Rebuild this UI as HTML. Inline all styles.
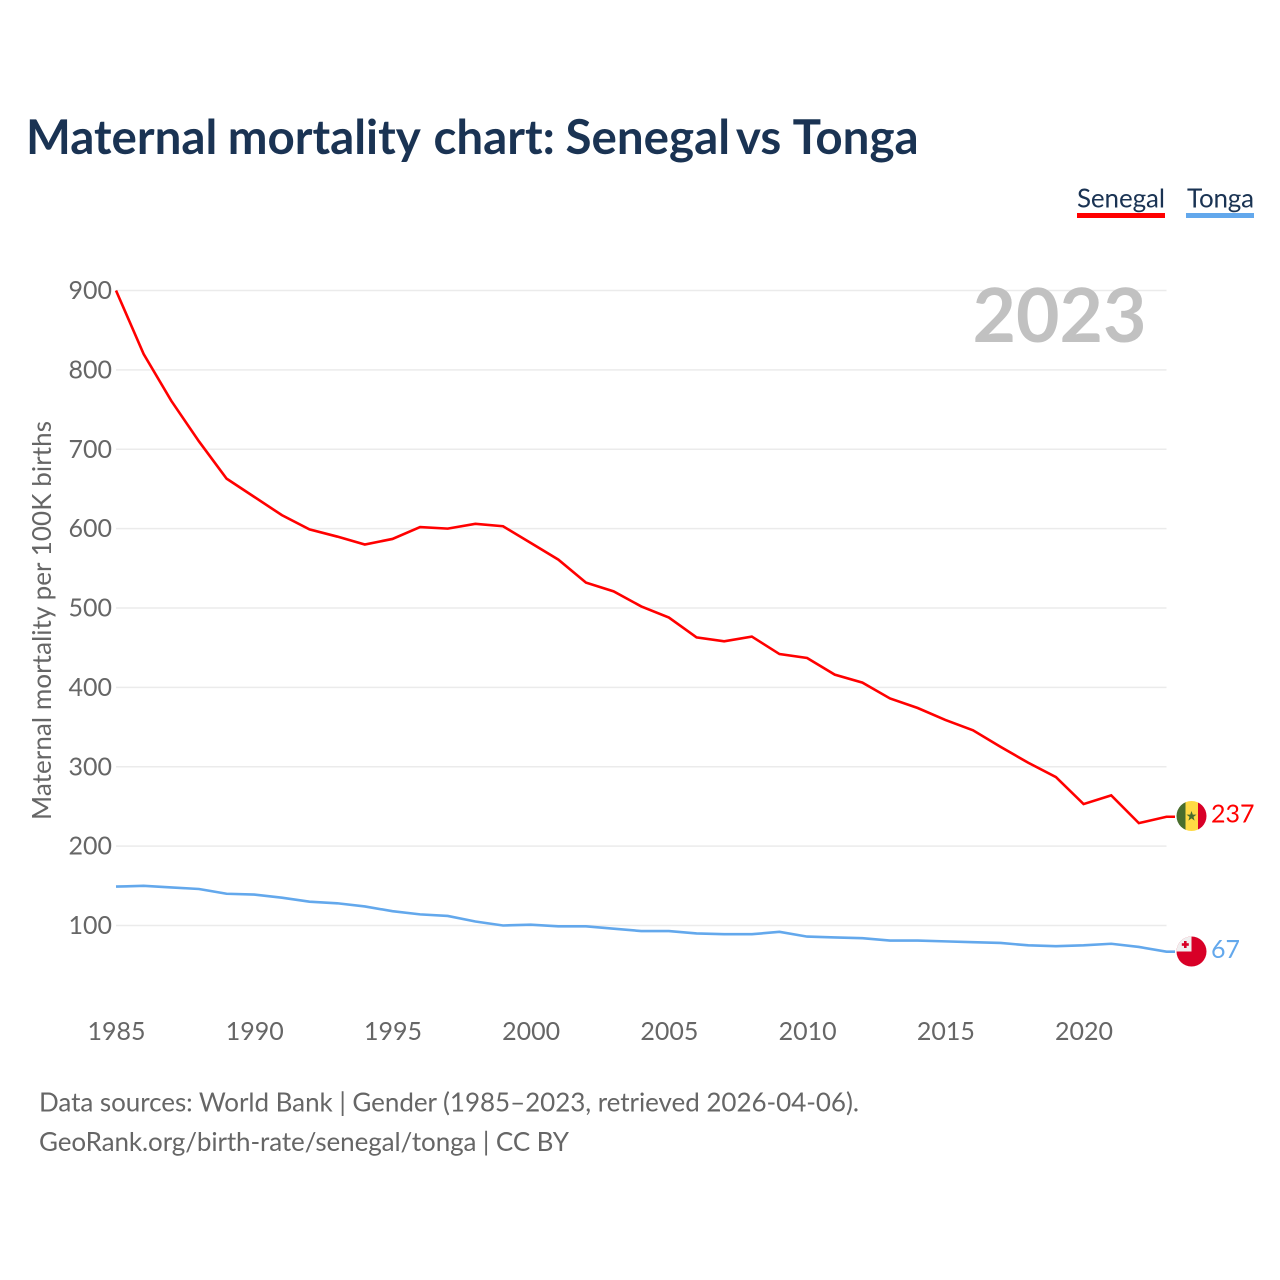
<!DOCTYPE html>
<html lang="en">
<head>
<meta charset="utf-8">
<title>Maternal mortality chart: Senegal vs Tonga</title>
<style>
html,body{margin:0;padding:0;background:#fff}
svg{display:block}
text{font-family:"Lato","Carlito","Liberation Sans",sans-serif}
</style>
</head>
<body>
<svg id="chart" xmlns="http://www.w3.org/2000/svg" width="1280" height="1280" viewBox="0 0 1280 1280">
  <rect width="1280" height="1280" fill="#fff"/>
  <text y="154" font-size="47.5" font-weight="700" fill="#1a3353"><tspan x="26">Maternal</tspan> <tspan x="227.7">mortality</tspan> <tspan x="433.5">chart:</tspan> <tspan x="565.5">Senegal</tspan> <tspan x="735.9">vs</tspan> <tspan x="792.6">Tonga</tspan></text>

  <g>
    <text x="1077" y="207.5" font-size="26" fill="#1a3353" textLength="88">Senegal</text>
    <rect x="1077" y="213" width="88" height="5" fill="#ff0000"/>
  </g>
  <g>
    <text x="1187" y="207.5" font-size="26" fill="#1a3353" textLength="67">Tonga</text>
    <rect x="1186" y="213" width="68" height="5" fill="#63a8ec"/>
  </g>

  <g id="grid"></g>
  <g id="yticks"></g>
  <g id="xticks"></g>
  <text x="1146.5" y="342" text-anchor="end" font-size="75" font-weight="700" fill="#c1c1c1">2023</text>
  <text transform="translate(51,620.5) rotate(-90)" text-anchor="middle" font-size="26" fill="#666" textLength="399">Maternal mortality per 100K births</text>

  <g id="series"></g>

  <defs>
    <clipPath id="clip-sn"><circle cx="1191.5" cy="816" r="15"/></clipPath>
    <clipPath id="clip-to"><circle cx="1191.5" cy="951.5" r="15"/></clipPath>
  </defs>
  <g clip-path="url(#clip-sn)">
    <rect x="1176" y="800" width="10" height="32" fill="#496e2d"/>
    <rect x="1185.5" y="800" width="12.5" height="32" fill="#ffda44"/>
    <rect x="1198" y="800" width="10" height="32" fill="#d80027"/>
    <polygon points="1191.5,811 1192.8,814.6 1196.5,814.6 1193.5,816.9 1194.6,820.6 1191.5,818.4 1188.4,820.6 1189.5,816.9 1186.5,814.6 1190.2,814.6" fill="#496e2d"/>
  </g>
  <g clip-path="url(#clip-to)">
    <rect x="1176" y="936" width="32" height="32" fill="#d80027"/>
    <rect x="1176" y="936" width="15.5" height="15.5" fill="#f0f0f0"/>
    <rect x="1184" y="941" width="2.6" height="7" fill="#d80027"/>
    <rect x="1181.8" y="943.2" width="7" height="2.6" fill="#d80027"/>
  </g>
  <text x="1211" y="822.5" font-size="25" fill="#ff0000">237</text>
  <text x="1211" y="958" font-size="25" fill="#63a8ec">67</text>

  <text x="39" y="1111.5" font-size="26" fill="#666" textLength="820">Data sources: World Bank | Gender (1985–2023, retrieved 2026-04-06).</text>
  <text x="39" y="1151" font-size="26" fill="#666" textLength="530">GeoRank.org/birth-rate/senegal/tonga | CC BY</text>
</svg>
<script>
const years = [1985,1986,1987,1988,1989,1990,1991,1992,1993,1994,1995,1996,1997,1998,1999,2000,2001,2002,2003,2004,2005,2006,2007,2008,2009,2010,2011,2012,2013,2014,2015,2016,2017,2018,2019,2020,2021,2022,2023];
const senegal = [900,820,761,710,663,640,617,599,590,580,587,602,600,606,603,582,561,532,521,502,488,463,458,464,442,437,416,406,386,374,359,346,325,305,287,253,264,229,237];
const tonga = [149,150,148,146,140,139,135,130,128,124,118,114,112,105,100,101,99,99,96,93,93,90,89,89,92,86,85,84,81,81,80,79,78,75,74,75,77,73,67];
const yTicks = [100,200,300,400,500,600,700,800,900];
const xTicks = [1985,1990,1995,2000,2005,2010,2015,2020];

const NS = 'http://www.w3.org/2000/svg';
const xScale = function (year) { return 116 + (year - 1985) * (1166.5 - 116) / 38; };
const yScale = function (value) { return 925.5 - (value - 100) * (925.5 - 290.5) / 800; };

const grid = document.getElementById('grid');
const yAxis = document.getElementById('yticks');
const xAxis = document.getElementById('xticks');
const seriesGroup = document.getElementById('series');

yTicks.forEach(function (tick) {
  const line = document.createElementNS(NS, 'line');
  
  
  line.setAttribute('x1', 116);
  line.setAttribute('x2', 1166.5);
  line.setAttribute('y1', yScale(tick));
  line.setAttribute('y2', yScale(tick));
  line.setAttribute('stroke', '#ebebeb');
  line.setAttribute('stroke-width', '1.5');
  grid.appendChild(line);

  const label = document.createElementNS(NS, 'text');
  
  
  label.setAttribute('x', 112);
  label.setAttribute('y', yScale(tick) + 8.5);
  label.setAttribute('text-anchor', 'end');
  label.setAttribute('font-size', '25');
  label.setAttribute('fill', '#666');
  label.textContent = tick;
  yAxis.appendChild(label);
});

xTicks.forEach(function (tick) {
  const label = document.createElementNS(NS, 'text');
  
  
  label.setAttribute('x', xScale(tick) + 0.5);
  label.setAttribute('y', 1040);
  label.setAttribute('text-anchor', 'middle');
  label.setAttribute('font-size', '25');
  label.setAttribute('fill', '#666');
  label.textContent = tick;
  xAxis.appendChild(label);
});

function pathFor(values) {
  const pts = values.map(function (v, i) { return xScale(years[i]).toFixed(2) + ',' + yScale(v).toFixed(2); });
  pts.push('1175,' + yScale(values[values.length - 1]).toFixed(2));
  return 'M' + pts.join('L');
}

const senegalLine = document.createElementNS(NS, 'path');


senegalLine.setAttribute('d', pathFor(senegal));
senegalLine.setAttribute('fill', 'none');
senegalLine.setAttribute('stroke', '#ff0000');
senegalLine.setAttribute('stroke-width', '2.6');
seriesGroup.appendChild(senegalLine);

const tongaLine = document.createElementNS(NS, 'path');


tongaLine.setAttribute('d', pathFor(tonga));
tongaLine.setAttribute('fill', 'none');
tongaLine.setAttribute('stroke', '#63a8ec');
tongaLine.setAttribute('stroke-width', '2.6');
seriesGroup.appendChild(tongaLine);
</script>
</body>
</html>
